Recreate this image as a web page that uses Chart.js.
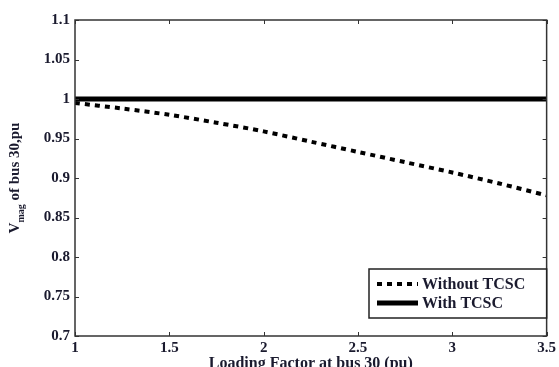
<!DOCTYPE html>
<html>
<head>
<meta charset="utf-8">
<script src="https://cdn.jsdelivr.net/npm/chart.js@4.4.1/dist/chart.umd.min.js"></script>
<style>
  html, body { margin: 0; padding: 0; background: #fff; }
  #wrap { width: 559px; height: 367px; position: relative; }
</style>
</head>
<body>
<div id="wrap"><canvas id="chartVmag"></canvas></div>
<script>
// data
var loadingFactor = [1.0, 1.25, 1.5, 1.75, 2.0, 2.25, 2.5, 2.75, 3.0, 3.25, 3.5];
var withoutTcsc = [0.995, 0.988, 0.980, 0.970, 0.959, 0.946, 0.933, 0.920, 0.907, 0.893, 0.878];
var withTcsc = [1.0, 1.0, 1.0, 1.0, 1.0, 1.0, 1.0, 1.0, 1.0, 1.0, 1.0];
var xTicks = [1, 1.5, 2, 2.5, 3, 3.5];
var yTicks = [0.7, 0.75, 0.8, 0.85, 0.9, 0.95, 1, 1.05, 1.1];

var FONT = '"Liberation Serif", "Times New Roman", serif';
var INK = '#1a1a2e';

function toPoints(xs, ys) {
  return xs.map(function (x, i) { return {x: x, y: ys[i]}; });
}

// box, inward ticks, y title with subscript, legend
var framePlugin = {
  id: 'frame',
  afterDraw: function (chart) {
    var ctx = chart.ctx;
    var a = chart.chartArea;
    var xs = chart.scales.x, ys = chart.scales.y;
    ctx.save();
    ctx.strokeStyle = '#333';
    ctx.lineWidth = 1.5;
    ctx.strokeRect(a.left, a.top, a.right - a.left, a.bottom - a.top);
    ctx.lineWidth = 1;
    ctx.beginPath();
    xTicks.forEach(function (v) {
      var px = Math.round(xs.getPixelForValue(v)) + 0.5;
      ctx.moveTo(px, a.bottom); ctx.lineTo(px, a.bottom - 4);
      ctx.moveTo(px, a.top); ctx.lineTo(px, a.top + 4);
    });
    yTicks.forEach(function (v) {
      var py = Math.round(ys.getPixelForValue(v)) + 0.5;
      ctx.moveTo(a.left, py); ctx.lineTo(a.left + 4, py);
      ctx.moveTo(a.right, py); ctx.lineTo(a.right - 4, py);
    });
    ctx.stroke();

    // y axis title: V_mag of bus 30,pu
    ctx.fillStyle = INK;
    ctx.translate(19, (a.top + a.bottom) / 2);
    ctx.rotate(-Math.PI / 2);
    ctx.textBaseline = 'alphabetic';
    ctx.font = 'bold 15px ' + FONT;
    var p1 = 'V', p2 = 'mag', p3 = ' of bus 30,pu';
    var w1 = ctx.measureText(p1).width;
    var w3 = ctx.measureText(p3).width;
    ctx.font = 'bold 10px ' + FONT;
    var w2 = ctx.measureText(p2).width;
    var x0 = -(w1 + w2 + w3) / 2;
    ctx.font = 'bold 15px ' + FONT;
    ctx.fillText(p1, x0, 0);
    ctx.font = 'bold 10px ' + FONT;
    ctx.fillText(p2, x0 + w1, 5);
    ctx.font = 'bold 15px ' + FONT;
    ctx.fillText(p3, x0 + w1 + w2, 0);
    ctx.restore();

    // legend box in lower right corner
    ctx.save();
    var bx = 369, by = 269, bw = a.right - bx, bh = 49;
    ctx.fillStyle = '#fff';
    ctx.fillRect(bx, by, bw, bh);
    ctx.strokeStyle = '#222';
    ctx.lineWidth = 1.5;
    ctx.strokeRect(bx, by, bw, bh);
    ctx.font = 'bold 16px ' + FONT;
    ctx.textBaseline = 'middle';
    chart.data.datasets.forEach(function (ds, i) {
      var ly = by + 15 + i * 19;
      ctx.strokeStyle = '#000';
      ctx.lineWidth = ds.borderWidth;
      ctx.setLineDash(ds.borderDash || []);
      ctx.beginPath();
      ctx.moveTo(bx + 8, ly); ctx.lineTo(bx + 49, ly);
      ctx.stroke();
      ctx.setLineDash([]);
      ctx.fillStyle = INK;
      ctx.fillText(ds.label, bx + 53, ly + 1);
    });
    ctx.restore();
  }
};

new Chart('chartVmag', {
  type: 'line',
  data: {
    datasets: [
      {
        label: 'Without TCSC',
        data: toPoints(loadingFactor, withoutTcsc),
        borderColor: '#000',
        borderWidth: 4,
        borderDash: [5, 5],
        borderCapStyle: 'butt',
        pointRadius: 0,
        tension: 0.3,
        fill: false
      },
      {
        label: 'With TCSC',
        data: toPoints(loadingFactor, withTcsc),
        borderColor: '#000',
        borderWidth: 5,
        pointRadius: 0,
        fill: false
      }
    ]
  },
  options: {
    responsive: true,
    maintainAspectRatio: false,
    animation: false,
    layout: { padding: { top: 20, right: 11, left: 0, bottom: 0 } },
    scales: {
      x: {
        type: 'linear',
        min: 1,
        max: 3.5,
        afterBuildTicks: function (s) { s.ticks = xTicks.map(function (v) { return {value: v}; }); },
        afterFit: function (s) { s.height = 31; },
        grid: { display: false, drawTicks: false },
        border: { display: false },
        ticks: {
          color: INK,
          padding: 3,
          maxRotation: 0,
          font: { family: FONT, size: 15, weight: 'bold' },
          callback: function (v) { return String(v); }
        },
        title: {
          display: true,
          text: 'Loading Factor at bus 30 (pu)',
          color: INK,
          padding: { top: -7, bottom: -6 },
          font: { family: FONT, size: 16, weight: 'bold' }
        }
      },
      y: {
        min: 0.7,
        max: 1.1,
        afterBuildTicks: function (s) { s.ticks = yTicks.map(function (v) { return {value: v}; }); },
        afterFit: function (s) { s.width = 75; },
        grid: { display: false, drawTicks: false },
        border: { display: false },
        ticks: {
          color: INK,
          padding: 5,
          font: { family: FONT, size: 15, weight: 'bold' },
          callback: function (v) { return String(v); }
        }
      }
    },
    plugins: {
      legend: { display: false },
      tooltip: { enabled: false }
    }
  },
  plugins: [framePlugin]
});
</script>
</body>
</html>
